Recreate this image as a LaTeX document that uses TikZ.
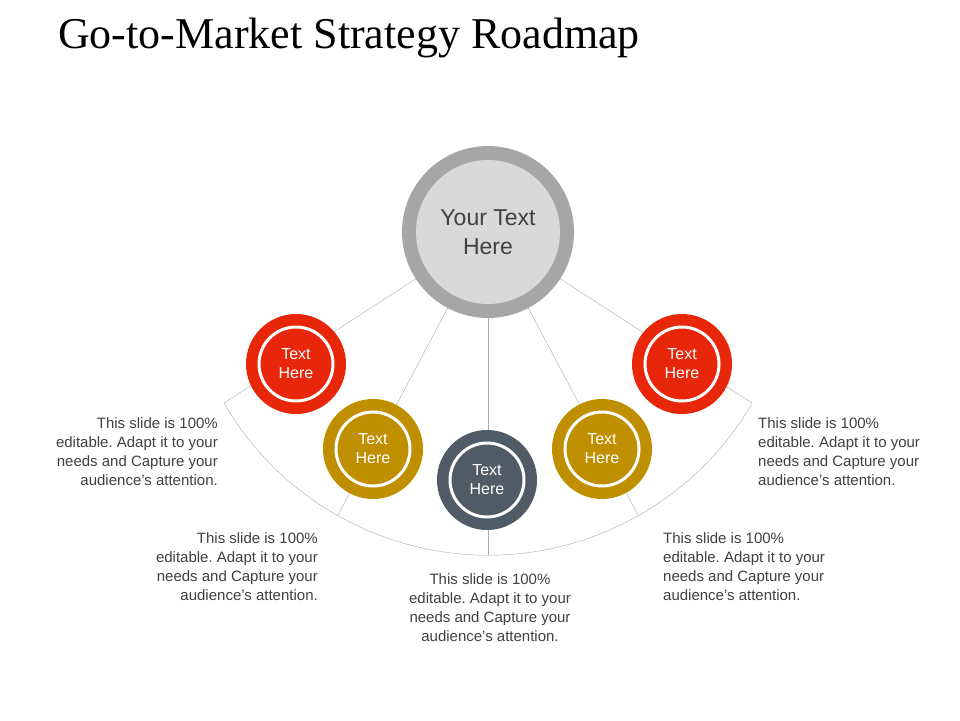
\documentclass[tikz,border=0pt]{standalone}
\usepackage{fontspec}
\setmainfont{Liberation Sans}
\newfontfamily\titlefont{Liberation Serif}
\usepackage{tikz}
\usetikzlibrary{positioning,calc}
\usepackage{xcolor}
\definecolor{ringgray}{HTML}{A6A6A6}
\definecolor{hubgray}{HTML}{D9D9D9}
\definecolor{txtgray}{HTML}{404040}
\definecolor{redc}{HTML}{E8260A}
\definecolor{goldc}{HTML}{BF8F00}
\definecolor{slatec}{HTML}{4F5B66}
\definecolor{linegray}{HTML}{ABABAB}
\frenchspacing

\begin{document}
\begin{tikzpicture}[x=1pt, y=-1pt,
    stepcirc/.style={circle, minimum size=100pt, inner sep=0pt, align=center, text=white,
        font=\fontsize{16}{19}\selectfont},
    whitering/.style={white, line width=3pt},
    note/.style={font=\fontsize{15}{19}\selectfont, text=txtgray, inner sep=0pt}]
            \useasboundingbox (0,0) rectangle (960,720);
            % Title
            \node[anchor=base west, font=\titlefont\fontsize{44}{48}\selectfont, inner sep=0pt] (Title) at (58,48) {Go-to-Market Strategy Roadmap};

            % Hub
            \coordinate (Hub) at (488,232);
            \coordinate (LR) at (224,403);
            \coordinate (LG) at (338,515);
            \coordinate (MB) at (488,555);
            \coordinate (RG) at (638,515);
            \coordinate (RR) at (752,403);

            % Rays and arc
            \draw[linegray] (Hub) -- (LR);
            \draw[linegray] (Hub) -- (LG);
            \draw[linegray] (Hub) -- (MB);
            \draw[linegray] (Hub) -- (RG);
            \draw[linegray] (Hub) -- (RR);
            \draw[linegray] (LR) arc[start angle=149.9, end angle=30.1, radius=305.3];

            \node[circle, fill=ringgray, minimum size=172pt] (Outer) at (Hub) {};
            \node[circle, fill=hubgray, minimum size=144pt, align=center, text=txtgray,
                font=\fontsize{23}{29}\selectfont] (Center) at (Hub) {Your Text\\Here};

            % Small circles
            \node[stepcirc, fill=redc] (A) at (296,364) {Text\\Here};
            \node[stepcirc, fill=goldc] (B) at (373,449) {Text\\Here};
            \node[stepcirc, fill=slatec] (C) at (487,480) {Text\\Here};
            \node[stepcirc, fill=goldc] (D) at (602,449) {Text\\Here};
            \node[stepcirc, fill=redc] (E) at (682,364) {Text\\Here};
            \foreach \n in {A,B,C,D,E}
                \draw[whitering] (\n.center) circle[radius=37];

            % Notes
            \node[note, align=right, anchor=north east] (NA) at (218,417) {This slide is 100\%\\editable. Adapt it to your\\needs and Capture your\\audience's attention.};
            \node[note, align=right, anchor=north east] (NB) at (318,532) {This slide is 100\%\\editable. Adapt it to your\\needs and Capture your\\audience's attention.};
            \node[note, align=center, anchor=north] (NC) at (490,573) {This slide is 100\%\\editable. Adapt it to your\\needs and Capture your\\audience's attention.};
            \node[note, align=left, anchor=north west] (ND) at (663,532) {This slide is 100\%\\editable. Adapt it to your\\needs and Capture your\\audience's attention.};
            \node[note, align=left, anchor=north west] (NE) at (758,417) {This slide is 100\%\\editable. Adapt it to your\\needs and Capture your\\audience's attention.};
        \end{tikzpicture}
\end{document}
